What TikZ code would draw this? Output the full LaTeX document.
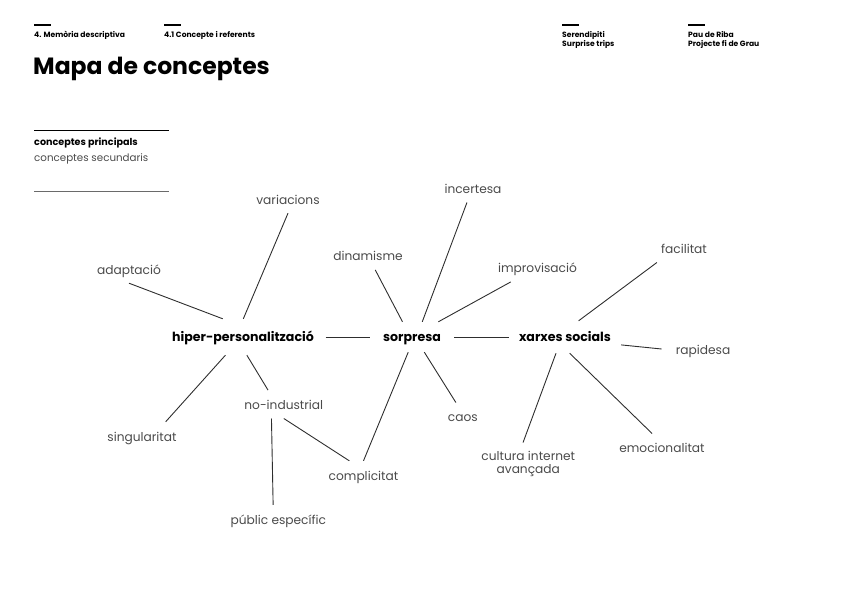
\documentclass[tikz,border=0pt]{standalone}
\usepackage{fontspec}
\setmainfont{Poppins}
\usetikzlibrary{positioning}
\definecolor{ink}{HTML}{2E2E2E}
\definecolor{soft}{HTML}{4A4A4A}
\definecolor{rule}{HTML}{6A6A6A}

\begin{document}
\begin{tikzpicture}[x=1pt, y=-1pt,
    main/.style={font=\fontsize{12.6}{14}\selectfont\bfseries, text=black, inner sep=0pt, text height=9pt, text depth=0pt},
    sec/.style={font=\fontsize{12.2}{13.3}\selectfont, text=soft, inner xsep=4pt, inner ysep=0pt, minimum height=28pt, text height=10.5pt, text depth=0pt},
    link/.style={draw=ink, line width=0.9pt},
    head/.style={font=\fontsize{7.6}{9}\selectfont\bfseries, anchor=base west, inner sep=0pt}]
    \useasboundingbox (0,0) rectangle (848,599);

    % Header
    \foreach \hx in {34,164,562,688}
        \draw[line width=2pt] (\hx,25.5) -- (\hx+17,25.5);
    \node[head] (sec4) at (34,38) {4. Memòria descriptiva};
    \node[head] (sec41) at (164,38) {4.1 Concepte i referents};
    \node[head] (proj) at (562,38) {Serendipiti};
    \node[head, below=0pt of proj.base west, anchor=base west, yshift=-9pt] (trips) {Surprise trips};
    \node[head] (auth) at (688,38) {Pau de Riba};
    \node[head, below=0pt of auth.base west, anchor=base west, yshift=-9pt] (tfg) {Projecte fi de Grau};
    \node[font=\fontsize{23.5}{26}\selectfont\bfseries, anchor=base west, inner sep=0pt] (title) at (33,75) {Mapa de conceptes};

    % Legend
    \draw[line width=1pt, black] (34,131) -- (169,131);
    \node[font=\fontsize{9.6}{11}\selectfont\bfseries, anchor=base west, inner sep=0pt] (legmain) at (34,146) {conceptes principals};
    \node[font=\fontsize{10.3}{12}\selectfont, text=soft, anchor=base west, inner sep=0pt] (legsec) at (34,161.5) {conceptes secundaris};
    \draw[line width=1pt, rule] (34,191.5) -- (169,191.5);

    % Main concepts
    \node[main, minimum width=165pt, minimum height=36pt] (hp) at (243,337) {hiper-personalització};
    \node[main, minimum width=84pt, minimum height=30pt] (sor) at (412,337) {sorpresa};
    \node[main, minimum width=112pt, minimum height=32pt] (xs) at (565,337) {xarxes socials};

    % Secondary concepts
    \node[sec] (var) at (288,199) {variacions};
    \node[sec] (adapt) at (129,269) {adaptació};
    \node[sec] (dinam) at (368,255.7) {dinamisme};
    \node[sec] (incert) at (473,188.3) {incertesa};
    \node[sec] (improv) at (537.5,267.7) {improvisació};
    \node[sec] (facil) at (684,248.3) {facilitat};
    \node[sec, inner xsep=14pt] (rapid) at (703,349) {rapidesa};
    \node[sec] (sing) at (142,436) {singularitat};
    \node[sec] (noind) at (283.8,404.3) {no-industrial};
    \node[sec] (public) at (278.3,519) {públic específic};
    \node[sec] (compl) at (363.5,475) {complicitat};
    \node[sec] (caos) at (462.8,416.7) {caos};
    \node[sec, align=center, text height=, text depth=, inner ysep=8pt] (cult) at (528.3,463.6) {cultura internet\\avançada};
    \node[sec] (emoc) at (662,447.7) {emocionalitat};

    % Links
    \path[link]
        % hiper-personalitzacio
        (hp.138) edge (adapt.south)
        (hp.89) edge (var.south)
        (hp.226) edge (sing.31)
        (hp.282) edge (noind.138)
        (hp.east) edge (sor.west)
        % no-industrial
        (noind.229) edge (public.110)
        (noind.south) edge (compl.135)
        % sorpresa
        (sor.122) edge (dinam.297)
        (sor.56) edge (incert.247)
        (sor.30) edge (improv.208)
        (sor.256) edge (compl.north)
        (sor.309) edge (caos.116)
        (sor.east) edge (xs.west)
        % xarxes socials
        (xs.50) edge (facil.south west)
        (xs.352) edge (rapid.west)
        (xs.241) edge (cult.104)
        (xs.286) edge (emoc.125);
\end{tikzpicture}
\end{document}
